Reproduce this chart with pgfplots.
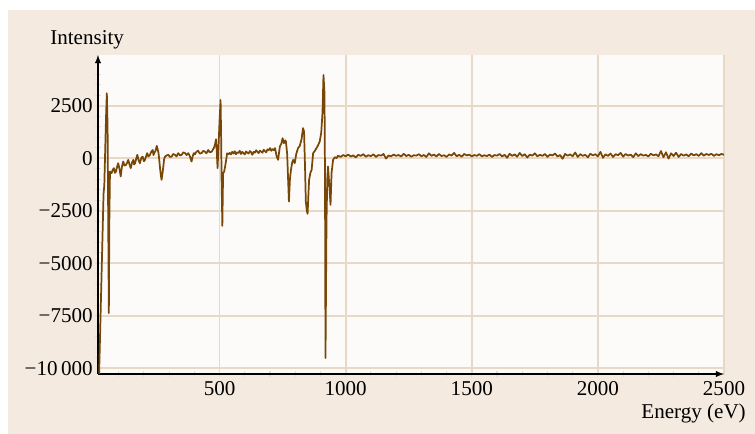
\documentclass[border=0pt]{standalone}
\usepackage{fontspec}
\setmainfont{Liberation Serif}
\usepackage{pgfplots}
\pgfplotsset{compat=1.18}
\definecolor{bgbeige}{RGB}{244,234,224}
\definecolor{plotbg}{RGB}{252,251,250}
\definecolor{gridc}{RGB}{232,217,198}
\definecolor{minc}{RGB}{232,220,208}
\definecolor{linec}{RGB}{120,70,6}
\begin{document}
\fontsize{15.8}{19}\selectfont
\begin{tikzpicture}[x=0.75pt,y=0.75pt]
\path[use as bounding box] (-98,-60) rectangle (657,374);
\fill[bgbeige] (-90,-60) rectangle (657,364);
\begin{axis}[
  at={(0,0)}, anchor=south west,
  scale only axis, width=469.5pt, height=239.25pt,
  xmin=18, xmax=2500, ymin=-10270, ymax=4910,
  scaled y ticks=false, scaled x ticks=false,
  axis lines=left,
  axis line style={black, line width=1.1pt, -latex},
  axis background/.style={fill=plotbg},
  xtick={500,1000,1500,2000,2500},
  xticklabels={500,1000,1500,2000,2500},
  ytick={-10000,-7500,-5000,-2500,0,2500},
  yticklabels={−10\,000,−7500,−5000,−2500,0,2500},
  minor xtick={100,200,...,2400},
  minor ytick={-9500,-9000,...,4500},
  major tick length=0pt,
  minor tick length=5pt,
  minor tick style={minc, line width=0.8pt},
  grid=major,
  major grid style={gridc, line width=1.3pt},
  tick label style={font=\fontsize{15.8}{19}\selectfont},
  yticklabel style={xshift=1.5pt},
  clip=true,
]
\addplot[linec, line width=1.3pt, line join=round] coordinates {
(22,-10500) (40,-1700) (43,-1300) (50,2000) (53,3090) (56,1500) (61,-7370) (63,-3000) (65.5,-640)
(72,-710) (76,-560) (81,-475) (85,-700) (89,-640) (94,-400) (98,-240) (103,-500) (108,-870)
(113,-400) (118,-160) (123,-350) (129,-320) (134,-200) (138,-80) (143,-300) (148,-475) (153,-200)
(158,-80) (161,-300) (165,-240) (170,0) (174,160) (179,-100) (184,-240) (190,20) (195,75) (200,-150)
(204,-80) (209,100) (213,240) (218,80) (224,160) (229,300) (235,390) (238,150) (241,240) (246,350)
(251,585) (255,400) (258,240) (261,-100) (264,-475) (267,-800) (270,-1030) (274,-700) (277,-400)
(280,-50) (284,75) (290,130) (297,160) (303,60) (310,75) (316,200) (323,160) (329,80) (336,240)
(343,130) (350,160) (356,280) (363,240) (369,150) (376,240) (382,100) (386,-60) (389,-160) (393,80)
(398,240) (402,180) (408,300) (415,360) (421,220) (429,240) (435,350) (442,310) (448,230) (455,390)
(461,280) (469,310) (474,420) (478,500) (482,650) (486,900) (489,300) (492,-475) (496,600) (500,1800)
(504,2770) (506,1200) (508,-1000) (511,-3220) (514,-710) (518,-650) (522,-400) (526,-100) (530,230)
(535,180) (540,250) (545,180) (550,300) (555,220) (560,330) (565,190) (570,280) (575,250) (580,350)
(585,200) (590,300) (595,240) (600,180) (605,320) (610,260) (615,220) (620,340) (625,280) (630,160)
(635,300) (640,260) (645,380) (650,300) (655,240) (660,360) (665,310) (670,260) (675,400) (680,330)
(685,280) (690,420) (695,380) (700,480) (705,350) (710,430) (715,380) (720,480) (726,100) (732,-80)
(739,550) (745,700) (750,950) (755,710) (760,850) (763,790) (768,200) (775,-2060) (779,-1000)
(783,-560) (788,-200) (792,-80) (798,-240) (804,200) (811,475) (818,585) (825,900) (831,1430)
(835,1260) (839,-500) (842,-2060) (846,-2500) (849,-2650) (852,-1800) (855,-1030) (860,-700)
(865,-560) (871,240) (878,350) (884,475) (890,600) (897,790) (903,1200) (908,2140) (912,3960)
(916,3090) (918,-870) (920,-9510) (924,-3000) (927,-1000) (930,-400) (935,-1300) (940,-2220)
(944,-700) (950,-80) (957,50) (964,0)
(970,120) (980,60) (990,150) (1000,90) (1010,170) (1020,80) (1030,130) (1040,40) (1050,160) (1060,110)
(1070,190) (1080,70) (1090,140) (1100,100) (1110,180) (1120,60) (1130,150) (1140,120) (1150,200)
(1160,-20) (1170,130) (1180,90) (1190,170) (1200,110) (1210,150) (1220,80) (1230,210) (1240,100)
(1250,160) (1260,70) (1270,140) (1280,120) (1290,190) (1300,90) (1310,150) (1320,60) (1330,230)
(1340,110) (1350,170) (1360,80) (1370,200) (1380,100) (1390,140) (1400,60) (1410,180) (1420,120)
(1430,250) (1440,90) (1450,160) (1460,70) (1470,200) (1480,130) (1490,170) (1500,80) (1510,150)
(1520,110) (1530,190) (1540,90) (1550,140) (1560,100) (1570,170) (1580,60) (1590,150) (1600,120)
(1610,200) (1620,80) (1630,160) (1640,20) (1650,210) (1660,110) (1670,180) (1680,70) (1690,250)
(1700,100) (1710,190) (1720,30) (1730,170) (1740,120) (1750,230) (1760,90) (1770,160) (1780,110)
(1790,200) (1800,60) (1810,170) (1820,130) (1830,220) (1840,80) (1850,150) (1860,-30) (1870,200)
(1880,120) (1890,180) (1900,90) (1910,270) (1920,60) (1930,190) (1940,110) (1950,160) (1960,40)
(1970,210) (1980,130) (1990,190) (2000,80) (2010,300) (2020,20) (2030,180) (2040,110) (2050,220)
(2060,60) (2070,190) (2080,140) (2090,250) (2100,70) (2110,200) (2120,120) (2130,170) (2140,50)
(2150,230) (2160,100) (2170,190) (2180,120) (2190,160) (2200,80) (2210,210) (2220,130) (2230,180)
(2240,90) (2250,340) (2260,40) (2270,280) (2280,-20) (2290,230) (2300,100) (2310,260) (2320,60)
(2330,200) (2340,120) (2350,180) (2360,90) (2370,220) (2380,130) (2390,190) (2400,110) (2410,240)
(2420,120) (2430,200) (2440,150) (2450,210) (2460,110) (2470,190) (2480,140) (2490,200) (2500,160)
};
\end{axis}
\node[anchor=base west, inner sep=0pt] at (-48,329) {Intensity};
\node[anchor=base east, inner sep=0pt] at (648,-45) {Energy (eV)};
\end{tikzpicture}
\end{document}
